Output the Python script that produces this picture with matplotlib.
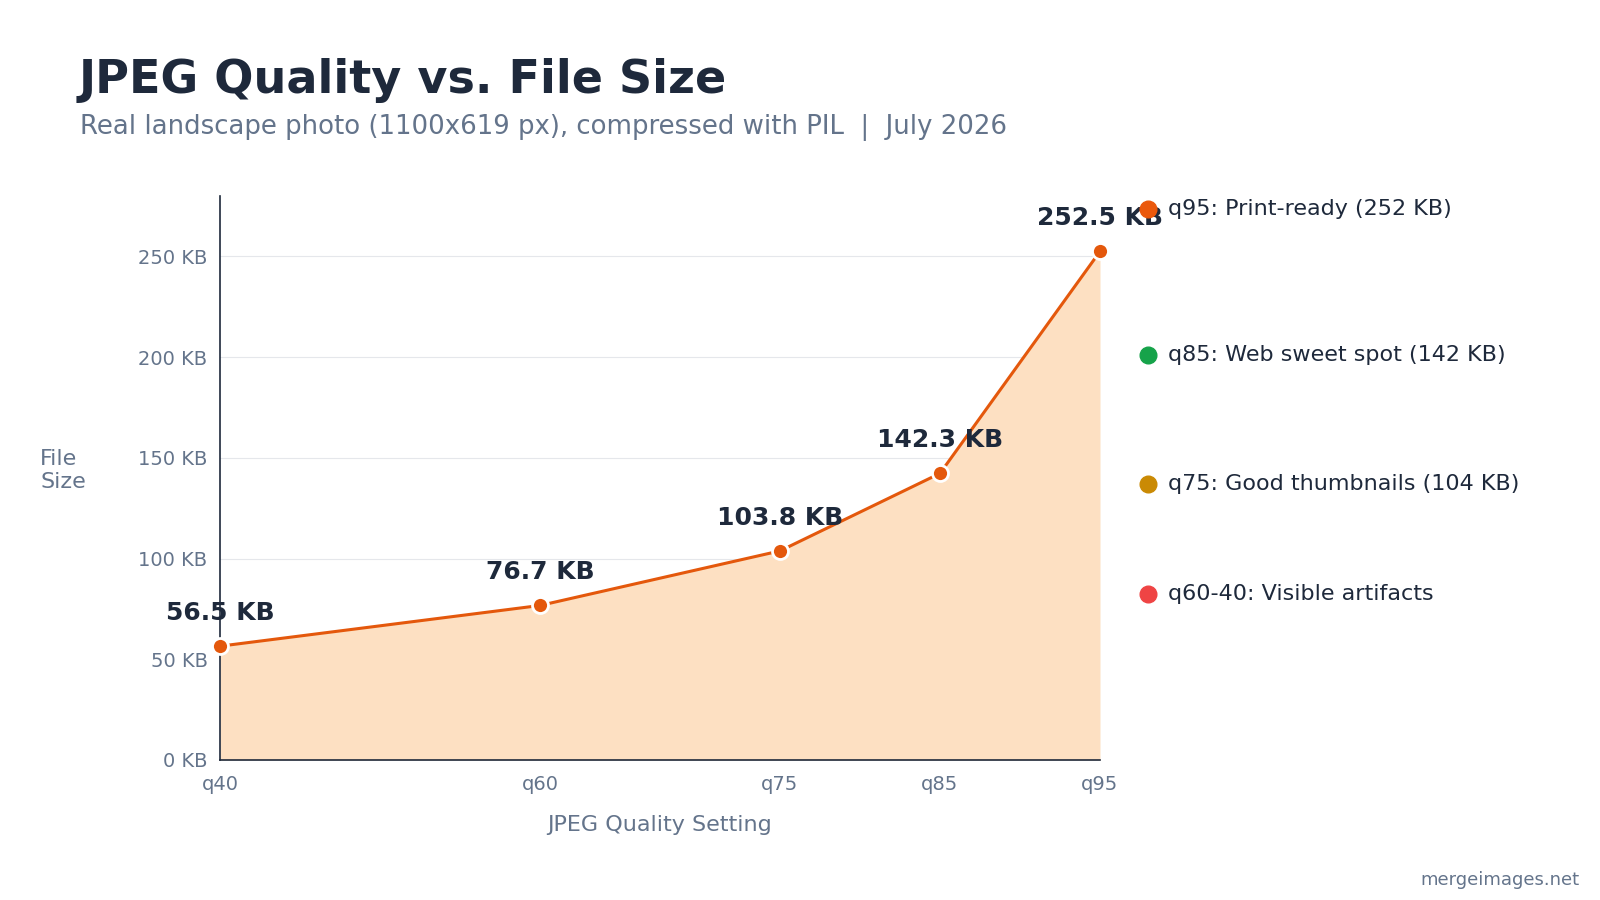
import matplotlib.pyplot as plt
from matplotlib.lines import Line2D

quality = [40, 60, 75, 85, 95]
quality_labels = ["q40", "q60", "q75", "q85", "q95"]
size_kb = [56.5, 76.7, 103.8, 142.3, 252.5]

legend_labels = ["q95: Print-ready (252 KB)", "q85: Web sweet spot (142 KB)",
                 "q75: Good thumbnails (104 KB)", "q60-40: Visible artifacts"]
legend_colors = ["#ea580c", "#16a34a", "#ca8a04", "#ef4444"]
legend_y = [0.768, 0.606, 0.462, 0.340]

DARK = "#1e293b"
MUTED = "#64748b"
ORANGE = "#e4580c"

fig = plt.figure(figsize=(16, 9), dpi=100)
ax = fig.add_axes([0.1375, 0.1556, 0.55, 0.6266])

# Area + line
ax.fill_between(quality, size_kb, 0, color="#fde0c2", linewidth=0)
ax.plot(quality, size_kb, color=ORANGE, linewidth=2.2, marker="o", markersize=11.5,
        markerfacecolor=ORANGE, markeredgecolor="white", markeredgewidth=2, zorder=3,
        clip_on=False)

for q, s in zip(quality, size_kb):
    ax.annotate(f"{s} KB", (q, s), xytext=(0, 24), textcoords="offset points",
                ha="center", va="center", fontsize=18, fontweight="bold", color=DARK)

ax.set_xlim(40, 95)
ax.set_ylim(0, 280)
ax.set_xticks(quality)
ax.set_xticklabels(quality_labels)
ax.set_yticks([0, 50, 100, 150, 200, 250])
ax.set_yticklabels([f"{v} KB" for v in [0, 50, 100, 150, 200, 250]])
ax.tick_params(axis="both", length=0, labelsize=14, labelcolor=MUTED)
ax.tick_params(axis="y", pad=9)
ax.tick_params(axis="x", pad=11)
ax.grid(axis="y", color="#e5e7eb", linewidth=0.8)
ax.set_axisbelow(True)

for side in ["top", "right"]:
    ax.spines[side].set_visible(False)
ax.spines["left"].set_color(DARK)
ax.spines["bottom"].set_color(DARK)
ax.spines["left"].set_linewidth(1.2)
ax.spines["bottom"].set_linewidth(1.2)

ax.set_xlabel("JPEG Quality Setting", fontsize=16, color=MUTED, labelpad=15)
fig.text(0.025, 0.477, "File\nSize", fontsize=16, color=MUTED, ha="left", va="center")

# Titles
fig.text(0.049, 0.911, "JPEG Quality vs. File Size", fontsize=33.2, fontweight="bold",
         color=DARK, ha="left", va="center")
fig.text(0.050, 0.858, "Real landscape photo (1100x619 px), compressed with PIL  |  July 2026",
         fontsize=18.7, color=MUTED, ha="left", va="center")

# Custom legend
for lbl, col, y in zip(legend_labels, legend_colors, legend_y):
    fig.add_artist(Line2D([0.7175], [y], marker="o", markersize=12, color=col,
                          linestyle="none", transform=fig.transFigure))
    fig.text(0.730, y, lbl, fontsize=16, color=DARK, ha="left", va="center")

fig.text(0.987, 0.022, "mergeimages.net", fontsize=13, color=MUTED, ha="right", va="center")

fig.savefig("out.png", dpi=100, facecolor="white")
